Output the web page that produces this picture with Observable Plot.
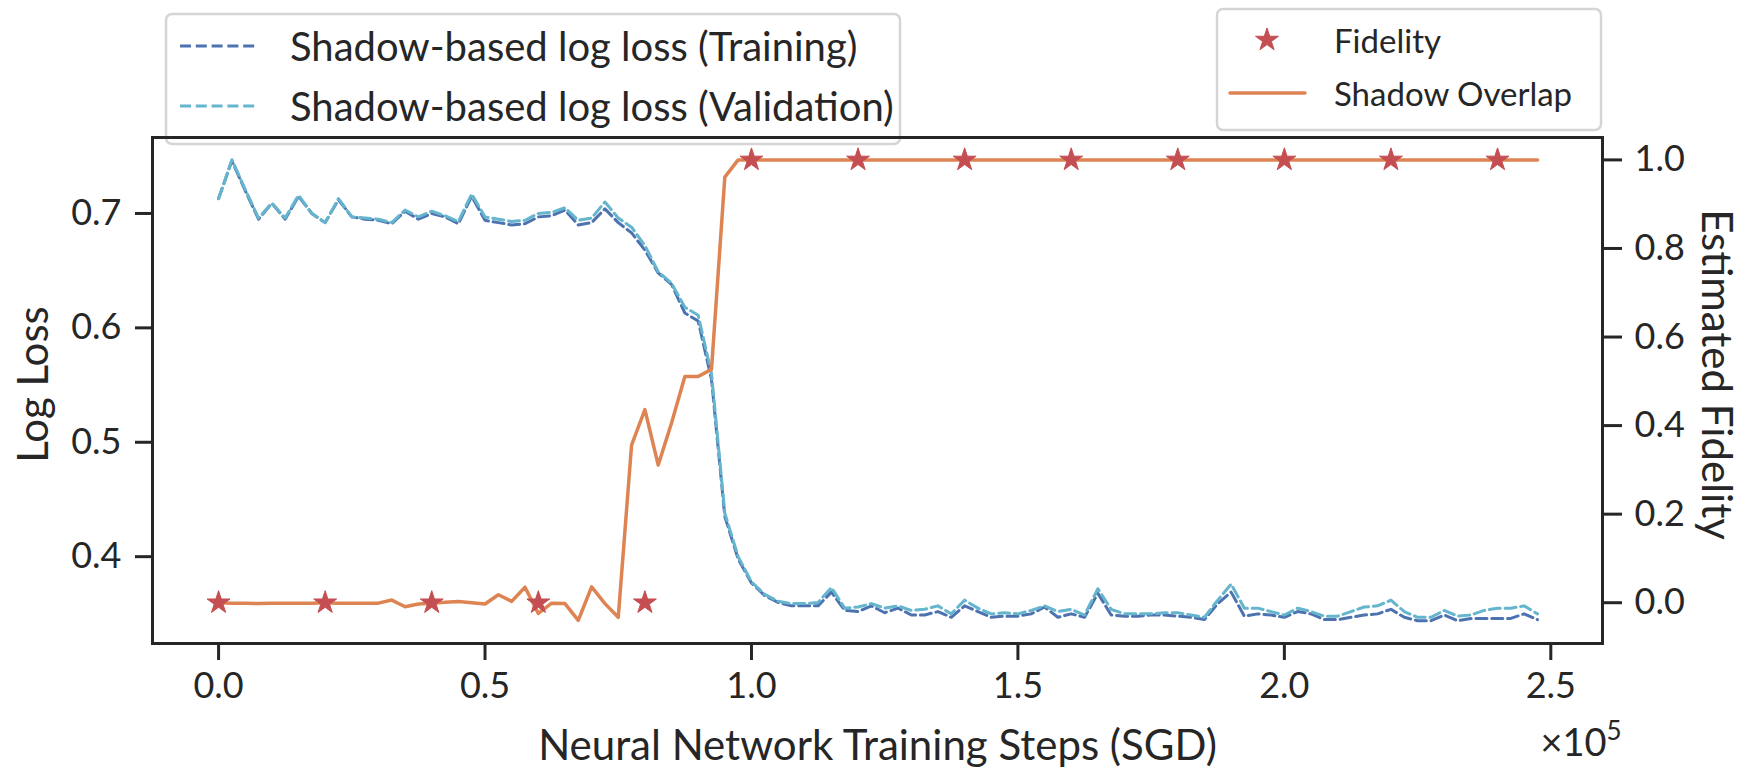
<!DOCTYPE html>
<html><head><meta charset="utf-8">
<script src="https://cdn.jsdelivr.net/npm/d3@7"></script>
<script src="https://cdn.jsdelivr.net/npm/@observablehq/plot@0.6"></script>
<style>
html,body{margin:0;padding:0;background:#fff;}
#wrap{position:relative;width:1742px;height:768px;font-family:Lato, sans-serif;}
#legends{position:absolute;left:0;top:0;z-index:0;}
#chart{position:absolute;left:0;top:0;z-index:1;}
#chart svg{background:transparent !important;}
</style></head>
<body><div id="wrap"><svg id="legends" width="1742" height="768"></svg><div id="chart"></div></div>
<script>
// ---- data ----
const steps = [0,2500,5000,7500,10000,12500,15000,17500,20000,22500,25000,27500,30000,32500,35000,37500,40000,42500,45000,47500,
50000,52500,55000,57500,60000,62500,65000,67500,70000,72500,75000,77500,80000,82500,85000,87500,90000,92500,95000,97500,
100000,102500,105000,107500,110000,112500,115000,117500,120000,122500,125000,127500,130000,132500,135000,137500,140000,142500,145000,147500,
150000,152500,155000,157500,160000,162500,165000,167500,170000,172500,175000,177500,180000,182500,185000,187500,190000,192500,195000,197500,
200000,202500,205000,207500,210000,212500,215000,217500,220000,222500,225000,227500,230000,232500,235000,237500,240000,242500,245000,247500];
const trainLoss = [0.713,0.746,0.720,0.695,0.709,0.695,0.715,0.700,0.692,0.712,0.697,0.695,0.694,0.691,0.702,0.695,0.700,0.697,0.691,0.715,
0.694,0.692,0.690,0.691,0.697,0.698,0.703,0.690,0.692,0.704,0.692,0.683,0.668,0.648,0.638,0.613,0.606,0.555,0.435,0.398,
0.377,0.366,0.360,0.357,0.357,0.357,0.369,0.353,0.352,0.357,0.351,0.355,0.349,0.349,0.352,0.347,0.357,0.352,0.347,0.348,
0.348,0.350,0.356,0.347,0.350,0.347,0.368,0.349,0.348,0.348,0.349,0.349,0.348,0.347,0.345,0.359,0.369,0.348,0.350,0.349,
0.347,0.352,0.350,0.345,0.345,0.347,0.349,0.350,0.354,0.347,0.344,0.344,0.349,0.344,0.346,0.346,0.346,0.346,0.350,0.345];
const valLoss = [0.713,0.747,0.721,0.696,0.709,0.696,0.716,0.700,0.692,0.713,0.697,0.696,0.695,0.692,0.703,0.697,0.702,0.698,0.693,0.717,
0.697,0.695,0.693,0.694,0.700,0.701,0.705,0.694,0.696,0.710,0.696,0.688,0.672,0.649,0.639,0.618,0.611,0.560,0.438,0.400,
0.378,0.367,0.361,0.359,0.359,0.360,0.373,0.355,0.356,0.359,0.355,0.357,0.353,0.354,0.357,0.350,0.362,0.355,0.350,0.351,
0.350,0.353,0.357,0.352,0.354,0.349,0.372,0.354,0.350,0.350,0.350,0.351,0.351,0.349,0.347,0.362,0.376,0.355,0.355,0.352,
0.349,0.355,0.352,0.348,0.348,0.352,0.356,0.357,0.362,0.352,0.347,0.347,0.353,0.348,0.349,0.353,0.355,0.355,0.357,0.350];
const shadowOverlap = [0.000,-0.001,-0.001,-0.002,-0.001,-0.001,-0.001,-0.001,0.000,-0.001,-0.001,-0.001,-0.001,0.006,-0.009,-0.003,-0.001,0.001,0.003,0.000,
-0.003,0.018,0.003,0.035,-0.024,-0.001,-0.002,-0.040,0.036,-0.002,-0.033,0.356,0.436,0.311,0.406,0.511,0.511,0.527,0.961,1.000,
1,1,1,1,1,1,1,1,1,1,1,1,1,1,1,1,1,1,1,1,
1,1,1,1,1,1,1,1,1,1,1,1,1,1,1,1,1,1,1,1,
1,1,1,1,1,1,1,1,1,1,1,1,1,1,1,1,1,1,1,1];
const fidelitySteps = [0,20000,40000,60000,80000,100000,120000,140000,160000,180000,200000,220000,240000];
const fidelityValues = [0,0,0,0,0,1,1,1,1,1,1,1,1];
const xTicks = [0,50000,100000,150000,200000,250000];
const lossTicks = [0.4,0.5,0.6,0.7];
const fidTicks = [0,0.2,0.4,0.6,0.8,1.0];
const xDomain = [-12400, 259700];
const lossDomain = [0.3241, 0.7664];
const fidDomain = [-0.0921, 1.0506];

// ---- colours ----
const cTrain = "#4C72B0", cVal = "#64B5CD", cOver = "#DD8452", cFid = "#C44E52", ink = "#262626";

const fidScale = d3.scaleLinear().domain(fidDomain).range(lossDomain);
const lossRows = steps.map((s,i)=>({step:s, train:trainLoss[i], val:valLoss[i], overlap:fidScale(shadowOverlap[i])}));
const fidRows = fidelitySteps.map((s,i)=>({step:s, f:fidScale(fidelityValues[i])}));
const fmt1 = v => { const r = Math.round(v*10)/10; return (r === 0 ? 0 : r).toFixed(1); };
const starR = 7.2;

const chart = Plot.plot({
  width: 1742, height: 768,
  marginLeft: 152, marginRight: 140, marginTop: 137, marginBottom: 125,
  style: {fontFamily: "Lato, sans-serif", color: ink, background: "transparent", fontSize: "36px"},
  x: {domain: xDomain},
  y: {domain: lossDomain},
  marks: [
    Plot.axisX(xTicks, {tickSize: 17, tickPadding: 12, strokeWidth: 3, stroke: ink, fontSize: 36, fill: ink, tickFormat: d => (d/1e5).toFixed(1), label: null}),
    Plot.axisY(lossTicks, {tickSize: 17, tickPadding: 14, strokeWidth: 3, stroke: ink, fontSize: 36, fill: ink, tickFormat: d => d.toFixed(1), label: null}),
    Plot.axisY(fidTicks.map(fidScale), {anchor: "right", tickSize: 19, tickPadding: 13, strokeWidth: 3, stroke: ink, fontSize: 36, fill: ink, tickFormat: d => fmt1(fidScale.invert(d)), label: null}),
    Plot.line(lossRows, {x: "step", y: "train", stroke: cTrain, strokeWidth: 3, strokeDasharray: "11,4.8"}),
    Plot.line(lossRows, {x: "step", y: "val", stroke: cVal, strokeWidth: 3, strokeDasharray: "11,4.8"}),
    Plot.line(lossRows, {x: "step", y: "overlap", stroke: cOver, strokeWidth: 3.5}),
    Plot.dot(fidRows, {x: "step", y: "f", symbol: "star", r: starR, fill: cFid, stroke: cFid, strokeWidth: 1}),
    Plot.frame({stroke: ink, strokeWidth: 3}),
    Plot.text(["Log Loss"], {text: d => d, frameAnchor: "left", textAnchor: "middle", lineAnchor: "middle", dx: -118, dy: -6, rotate: -90, fontSize: 42, fill: ink}),
    Plot.text(["Estimated Fidelity"], {text: d => d, frameAnchor: "right", textAnchor: "middle", lineAnchor: "middle", dx: 113, dy: -16, rotate: 90, fontSize: 42, fill: ink}),
    Plot.text(["Neural Network Training Steps (SGD)"], {text: d => d, frameAnchor: "bottom", textAnchor: "middle", dy: 116, lineAnchor: "bottom", fontSize: 42, fill: ink}),
    Plot.text(["×10"], {text: d => d, frameAnchor: "bottom-right", dx: 4, dy: 112, lineAnchor: "bottom", textAnchor: "end", fontSize: 38, fill: ink}),
    Plot.text(["5"], {text: d => d, frameAnchor: "bottom-right", dx: 19, dy: 96, lineAnchor: "bottom", textAnchor: "end", fontSize: 26, fill: ink})
  ]
});
document.getElementById("chart").appendChild(chart);

// ---- legends (behind the axes frame) ----
const L = d3.select("#legends");
const leg1 = [{label: "Shadow-based log loss (Training)", color: cTrain, y: 46}, {label: "Shadow-based log loss (Validation)", color: cVal, y: 106}];
L.append("rect").attr("x", 166).attr("y", 14).attr("width", 734).attr("height", 130).attr("rx", 6)
  .attr("fill", "rgba(255,255,255,0.8)").attr("stroke", "#d5d5d5").attr("stroke-width", 2.5);
leg1.forEach(d => {
  L.append("line").attr("x1", 180).attr("x2", 258).attr("y1", d.y).attr("y2", d.y)
    .attr("stroke", d.color).attr("stroke-width", 3).attr("stroke-dasharray", "11,4.8");
  L.append("text").attr("x", 290).attr("y", d.y).attr("dominant-baseline", "central")
    .attr("font-family", "Lato, sans-serif").attr("font-size", 40).attr("fill", ink).text(d.label);
});
L.append("rect").attr("x", 1217).attr("y", 9).attr("width", 384).attr("height", 121).attr("rx", 6)
  .attr("fill", "rgba(255,255,255,0.8)").attr("stroke", "#d5d5d5").attr("stroke-width", 2.5);
L.append("path").attr("d", d3.symbol(d3.symbolStar, Math.PI * starR * starR)())
  .attr("transform", "translate(1267,40)").attr("fill", cFid).attr("stroke", cFid).attr("stroke-width", 1);
L.append("text").attr("x", 1334).attr("y", 40).attr("dominant-baseline", "central")
  .attr("font-family", "Lato, sans-serif").attr("font-size", 33).attr("fill", ink).text("Fidelity");
L.append("line").attr("x1", 1230).attr("x2", 1305).attr("y1", 93).attr("y2", 93)
  .attr("stroke", cOver).attr("stroke-width", 3.5).attr("stroke-linecap", "round");
L.append("text").attr("x", 1334).attr("y", 93).attr("dominant-baseline", "central")
  .attr("font-family", "Lato, sans-serif").attr("font-size", 33).attr("fill", ink).text("Shadow Overlap");
</script>
</body></html>
